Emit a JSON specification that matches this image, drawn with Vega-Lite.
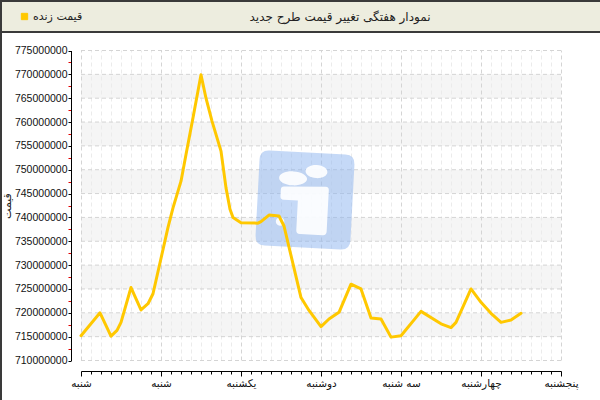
{
  "$schema": "https://vega.github.io/schema/vega-lite/v6.json",
  "padding": 0,
  "autosize": {"type": "pad"},
  "background": "white",
  "spacing": 0,
  "bounds": "flush",
  "config": {"font": "DejaVu Sans", "axis": {"labelFlush": false, "labelOverlap": false, "labelBound": false}},
  "vconcat": [
    {
      "width": 600,
      "height": 31,
      "view": {"fill": "#EDEDDF", "stroke": "#3a3a3a", "strokeWidth": 2},
      "data": {"values": [{"title": "نمودار هفتگی تغییر قیمت طرح جدید"}]},
      "mark": {"type": "text", "font": "DejaVu Sans", "fontSize": 12, "color": "#222222", "dx": 39, "baseline": "middle", "align": "center"},
      "encoding": {"text": {"field": "title"}}
    },
    {
      "width": 600,
      "height": 369,
      "view": {"fill": "white", "stroke": "#3a3a3a", "strokeWidth": 2},
      "layer": [
        {
          "data": {"values": [
            {"v": 765000000, "v2": 770000000},
            {"v": 755000000, "v2": 760000000},
            {"v": 745000000, "v2": 750000000},
            {"v": 735000000, "v2": 740000000},
            {"v": 725000000, "v2": 730000000},
            {"v": 715000000, "v2": 720000000}
          ]},
          "mark": {"type": "rect", "color": "#f5f5f5"},
          "encoding": {
            "x": {"datum": 0, "type": "quantitative", "scale": {"domain": [0, 6], "range": [80, 560], "nice": false, "zero": false},
              "axis": {"orient": "bottom", "offset": -30, "title": null, "values": [0,0.125,0.25,0.375,0.5,0.625,0.75,0.875,1,1.125,1.25,1.375,1.5,1.625,1.75,1.875,2,2.125,2.25,2.375,2.5,2.625,2.75,2.875,3,3.125,3.25,3.375,3.5,3.625,3.75,3.875,4,4.125,4.25,4.375,4.5,4.625,4.75,4.875,5,5.125,5.25,5.375,5.5,5.625,5.75,5.875,6], "labelExpr": "datum.value % 1 === 0 ? ['شنبه','شنبه','یکشنبه','دوشنبه','سه شنبه','چهارشنبه','پنجشنبه'][datum.value] : ''", "labelFont": "DejaVu Sans", "labelFontSize": 10.5, "labelColor": "#111111", "labelPadding": 2, "domainColor": "#000000", "domainWidth": 1, "tickColor": "#000000", "tickSize": {"condition": {"test": "datum.value % 1 === 0", "value": 5}, "value": 3}, "grid": false}},
            "x2": {"datum": 6},
            "y": {"field": "v", "type": "quantitative", "scale": {"domain": [710000000, 775000000], "range": [328.5, 18.5], "nice": false, "zero": false},
              "axis": {"orient": "left", "offset": -70, "title": "قیمت", "values": [710000000,712500000,715000000,717500000,720000000,722500000,725000000,727500000,730000000,732500000,735000000,737500000,740000000,742500000,745000000,747500000,750000000,752500000,755000000,757500000,760000000,762500000,765000000,767500000,770000000,772500000,775000000], "format": "d", "labelExpr": "datum.value % 5000000 === 0 ? datum.label : ''", "labelFont": "Liberation Sans", "labelFontSize": 10.5, "labelColor": "#111111", "labelPadding": 1, "domainColor": "#000000", "domainWidth": 1, "tickColor": {"condition": {"test": "datum.value % 5000000 === 0", "value": "#000000"}, "value": "#e00000"}, "tickSize": 3, "grid": false, "titleFont": "DejaVu Sans", "titleFontSize": 11, "titleFontWeight": "normal", "titleColor": "#222222", "titlePadding": 2}},
            "y2": {"field": "v2"}
          }
        },
        {
          "data": {"values": [
            {"t": 0}, {"t": 0.125}, {"t": 0.25}, {"t": 0.375}, {"t": 0.5}, {"t": 0.625}, {"t": 0.75}, {"t": 0.875},
            {"t": 1}, {"t": 1.125}, {"t": 1.25}, {"t": 1.375}, {"t": 1.5}, {"t": 1.625}, {"t": 1.75}, {"t": 1.875},
            {"t": 2}, {"t": 2.125}, {"t": 2.25}, {"t": 2.375}, {"t": 2.5}, {"t": 2.625}, {"t": 2.75}, {"t": 2.875},
            {"t": 3}, {"t": 3.125}, {"t": 3.25}, {"t": 3.375}, {"t": 3.5}, {"t": 3.625}, {"t": 3.75}, {"t": 3.875},
            {"t": 4}, {"t": 4.125}, {"t": 4.25}, {"t": 4.375}, {"t": 4.5}, {"t": 4.625}, {"t": 4.75}, {"t": 4.875},
            {"t": 5}, {"t": 5.125}, {"t": 5.25}, {"t": 5.375}, {"t": 5.5}, {"t": 5.625}, {"t": 5.75}, {"t": 5.875},
            {"t": 6}
          ]},
          "mark": {"type": "rule", "strokeDash": [4, 3], "strokeWidth": 1, "xOffset": 0.5},
          "encoding": {
            "x": {"field": "t", "type": "quantitative", "scale": {"domain": [0, 6], "range": [80, 560], "nice": false, "zero": false},
              "axis": {"orient": "bottom", "offset": -30, "title": null, "values": [0,0.125,0.25,0.375,0.5,0.625,0.75,0.875,1,1.125,1.25,1.375,1.5,1.625,1.75,1.875,2,2.125,2.25,2.375,2.5,2.625,2.75,2.875,3,3.125,3.25,3.375,3.5,3.625,3.75,3.875,4,4.125,4.25,4.375,4.5,4.625,4.75,4.875,5,5.125,5.25,5.375,5.5,5.625,5.75,5.875,6], "labelExpr": "datum.value % 1 === 0 ? ['شنبه','شنبه','یکشنبه','دوشنبه','سه شنبه','چهارشنبه','پنجشنبه'][datum.value] : ''", "labelFont": "DejaVu Sans", "labelFontSize": 10.5, "labelColor": "#111111", "labelPadding": 2, "domainColor": "#000000", "domainWidth": 1, "tickColor": "#000000", "tickSize": {"condition": {"test": "datum.value % 1 === 0", "value": 5}, "value": 3}, "grid": false}},
            "y": {"datum": 710000000, "type": "quantitative", "scale": {"domain": [710000000, 775000000], "range": [328.5, 18.5], "nice": false, "zero": false},
              "axis": {"orient": "left", "offset": -70, "title": "قیمت", "values": [710000000,712500000,715000000,717500000,720000000,722500000,725000000,727500000,730000000,732500000,735000000,737500000,740000000,742500000,745000000,747500000,750000000,752500000,755000000,757500000,760000000,762500000,765000000,767500000,770000000,772500000,775000000], "format": "d", "labelExpr": "datum.value % 5000000 === 0 ? datum.label : ''", "labelFont": "Liberation Sans", "labelFontSize": 10.5, "labelColor": "#111111", "labelPadding": 1, "domainColor": "#000000", "domainWidth": 1, "tickColor": {"condition": {"test": "datum.value % 5000000 === 0", "value": "#000000"}, "value": "#e00000"}, "tickSize": 3, "grid": false, "titleFont": "DejaVu Sans", "titleFontSize": 11, "titleFontWeight": "normal", "titleColor": "#222222", "titlePadding": 2}},
            "y2": {"datum": 775000000},
            "color": {"condition": {"test": "datum.t % 1 === 0", "value": "#d4d4d4"}, "value": "#ebebeb"}
          }
        },
        {
          "data": {"values": [
            {"v": 710000000}, {"v": 715000000}, {"v": 720000000}, {"v": 725000000}, {"v": 730000000},
            {"v": 735000000}, {"v": 740000000}, {"v": 745000000}, {"v": 750000000}, {"v": 755000000},
            {"v": 760000000}, {"v": 765000000}, {"v": 770000000}, {"v": 775000000}
          ]},
          "mark": {"type": "rule", "strokeDash": [4, 3], "strokeWidth": 1, "color": "#d4d4d4"},
          "encoding": {
            "x": {"datum": 0, "type": "quantitative", "scale": {"domain": [0, 6], "range": [80, 560], "nice": false, "zero": false},
              "axis": {"orient": "bottom", "offset": -30, "title": null, "values": [0,0.125,0.25,0.375,0.5,0.625,0.75,0.875,1,1.125,1.25,1.375,1.5,1.625,1.75,1.875,2,2.125,2.25,2.375,2.5,2.625,2.75,2.875,3,3.125,3.25,3.375,3.5,3.625,3.75,3.875,4,4.125,4.25,4.375,4.5,4.625,4.75,4.875,5,5.125,5.25,5.375,5.5,5.625,5.75,5.875,6], "labelExpr": "datum.value % 1 === 0 ? ['شنبه','شنبه','یکشنبه','دوشنبه','سه شنبه','چهارشنبه','پنجشنبه'][datum.value] : ''", "labelFont": "DejaVu Sans", "labelFontSize": 10.5, "labelColor": "#111111", "labelPadding": 2, "domainColor": "#000000", "domainWidth": 1, "tickColor": "#000000", "tickSize": {"condition": {"test": "datum.value % 1 === 0", "value": 5}, "value": 3}, "grid": false}},
            "x2": {"datum": 6},
            "y": {"field": "v", "type": "quantitative", "scale": {"domain": [710000000, 775000000], "range": [328.5, 18.5], "nice": false, "zero": false},
              "axis": {"orient": "left", "offset": -70, "title": "قیمت", "values": [710000000,712500000,715000000,717500000,720000000,722500000,725000000,727500000,730000000,732500000,735000000,737500000,740000000,742500000,745000000,747500000,750000000,752500000,755000000,757500000,760000000,762500000,765000000,767500000,770000000,772500000,775000000], "format": "d", "labelExpr": "datum.value % 5000000 === 0 ? datum.label : ''", "labelFont": "Liberation Sans", "labelFontSize": 10.5, "labelColor": "#111111", "labelPadding": 1, "domainColor": "#000000", "domainWidth": 1, "tickColor": {"condition": {"test": "datum.value % 5000000 === 0", "value": "#000000"}, "value": "#e00000"}, "tickSize": 3, "grid": false, "titleFont": "DejaVu Sans", "titleFontSize": 11, "titleFontWeight": "normal", "titleColor": "#222222", "titlePadding": 2}}
          }
        },
        {
          "data": {"values": [{"t": 2.8, "v": 743650000}]},
          "mark": {"type": "point", "filled": true, "color": "#8cb4f0", "opacity": 0.5, "size": 9025, "angle": 3, "strokeWidth": 0,
            "shape": "M -0.8 -1 L 0.8 -1 Q 1 -1 1 -0.8 L 1 0.8 Q 1 1 0.8 1 L -0.8 1 Q -1 1 -1 0.8 L -1 -0.8 Q -1 -1 -0.8 -1 Z"},
          "encoding": {
            "x": {"field": "t", "type": "quantitative", "scale": {"domain": [0, 6], "range": [80, 560], "nice": false, "zero": false},
              "axis": {"orient": "bottom", "offset": -30, "title": null, "values": [0,0.125,0.25,0.375,0.5,0.625,0.75,0.875,1,1.125,1.25,1.375,1.5,1.625,1.75,1.875,2,2.125,2.25,2.375,2.5,2.625,2.75,2.875,3,3.125,3.25,3.375,3.5,3.625,3.75,3.875,4,4.125,4.25,4.375,4.5,4.625,4.75,4.875,5,5.125,5.25,5.375,5.5,5.625,5.75,5.875,6], "labelExpr": "datum.value % 1 === 0 ? ['شنبه','شنبه','یکشنبه','دوشنبه','سه شنبه','چهارشنبه','پنجشنبه'][datum.value] : ''", "labelFont": "DejaVu Sans", "labelFontSize": 10.5, "labelColor": "#111111", "labelPadding": 2, "domainColor": "#000000", "domainWidth": 1, "tickColor": "#000000", "tickSize": {"condition": {"test": "datum.value % 1 === 0", "value": 5}, "value": 3}, "grid": false}},
            "y": {"field": "v", "type": "quantitative", "scale": {"domain": [710000000, 775000000], "range": [328.5, 18.5], "nice": false, "zero": false},
              "axis": {"orient": "left", "offset": -70, "title": "قیمت", "values": [710000000,712500000,715000000,717500000,720000000,722500000,725000000,727500000,730000000,732500000,735000000,737500000,740000000,742500000,745000000,747500000,750000000,752500000,755000000,757500000,760000000,762500000,765000000,767500000,770000000,772500000,775000000], "format": "d", "labelExpr": "datum.value % 5000000 === 0 ? datum.label : ''", "labelFont": "Liberation Sans", "labelFontSize": 10.5, "labelColor": "#111111", "labelPadding": 1, "domainColor": "#000000", "domainWidth": 1, "tickColor": {"condition": {"test": "datum.value % 5000000 === 0", "value": "#000000"}, "value": "#e00000"}, "tickSize": 3, "grid": false, "titleFont": "DejaVu Sans", "titleFontSize": 11, "titleFontWeight": "normal", "titleColor": "#222222", "titlePadding": 2}}
          }
        },
        {
          "data": {"values": [{"t": 2.8, "v": 743650000}]},
          "mark": {"type": "point", "filled": true, "color": "#ffffff", "opacity": 0.9, "size": 9025, "angle": 3, "strokeWidth": 0,
            "shape": "M -0.569 -0.442 A 0.295 0.147 0 1 0 0.021 -0.442 A 0.295 0.147 0 1 0 -0.569 -0.442 Z M -0.02 -0.61 A 0.23 0.137 0 1 0 0.44 -0.61 A 0.23 0.137 0 1 0 -0.02 -0.61 Z M -0.45 -0.26 L 0.42 -0.3 Q 0.49 -0.3 0.49 -0.23 L 0.49 0.64 Q 0.49 0.72 0.41 0.72 L -0.07 0.72 Q -0.15 0.72 -0.15 0.64 L -0.15 0.02 L -0.45 0.02 Q -0.52 0.02 -0.52 -0.05 L -0.52 -0.19 Q -0.52 -0.26 -0.45 -0.26 Z M -0.59 0.48 A 0.09 0.09 0 1 0 -0.41 0.48 A 0.09 0.09 0 1 0 -0.59 0.48 Z"},
          "encoding": {
            "x": {"field": "t", "type": "quantitative", "scale": {"domain": [0, 6], "range": [80, 560], "nice": false, "zero": false},
              "axis": {"orient": "bottom", "offset": -30, "title": null, "values": [0,0.125,0.25,0.375,0.5,0.625,0.75,0.875,1,1.125,1.25,1.375,1.5,1.625,1.75,1.875,2,2.125,2.25,2.375,2.5,2.625,2.75,2.875,3,3.125,3.25,3.375,3.5,3.625,3.75,3.875,4,4.125,4.25,4.375,4.5,4.625,4.75,4.875,5,5.125,5.25,5.375,5.5,5.625,5.75,5.875,6], "labelExpr": "datum.value % 1 === 0 ? ['شنبه','شنبه','یکشنبه','دوشنبه','سه شنبه','چهارشنبه','پنجشنبه'][datum.value] : ''", "labelFont": "DejaVu Sans", "labelFontSize": 10.5, "labelColor": "#111111", "labelPadding": 2, "domainColor": "#000000", "domainWidth": 1, "tickColor": "#000000", "tickSize": {"condition": {"test": "datum.value % 1 === 0", "value": 5}, "value": 3}, "grid": false}},
            "y": {"field": "v", "type": "quantitative", "scale": {"domain": [710000000, 775000000], "range": [328.5, 18.5], "nice": false, "zero": false},
              "axis": {"orient": "left", "offset": -70, "title": "قیمت", "values": [710000000,712500000,715000000,717500000,720000000,722500000,725000000,727500000,730000000,732500000,735000000,737500000,740000000,742500000,745000000,747500000,750000000,752500000,755000000,757500000,760000000,762500000,765000000,767500000,770000000,772500000,775000000], "format": "d", "labelExpr": "datum.value % 5000000 === 0 ? datum.label : ''", "labelFont": "Liberation Sans", "labelFontSize": 10.5, "labelColor": "#111111", "labelPadding": 1, "domainColor": "#000000", "domainWidth": 1, "tickColor": {"condition": {"test": "datum.value % 5000000 === 0", "value": "#000000"}, "value": "#e00000"}, "tickSize": 3, "grid": false, "titleFont": "DejaVu Sans", "titleFontSize": 11, "titleFontWeight": "normal", "titleColor": "#222222", "titlePadding": 2}}
          }
        },
        {
          "data": {"values": [
            {"t": 0, "v": 715200000, "series": "قیمت زنده"},
            {"t": 0.2375, "v": 720000000, "series": "قیمت زنده"},
            {"t": 0.375, "v": 715100000, "series": "قیمت زنده"},
            {"t": 0.45, "v": 716300000, "series": "قیمت زنده"},
            {"t": 0.5, "v": 718000000, "series": "قیمت زنده"},
            {"t": 0.625, "v": 725300000, "series": "قیمت زنده"},
            {"t": 0.75, "v": 720600000, "series": "قیمت زنده"},
            {"t": 0.8375, "v": 721900000, "series": "قیمت زنده"},
            {"t": 0.9, "v": 724000000, "series": "قیمت زنده"},
            {"t": 1.0875, "v": 737900000, "series": "قیمت زنده"},
            {"t": 1.15, "v": 742000000, "series": "قیمت زنده"},
            {"t": 1.25, "v": 747600000, "series": "قیمت زنده"},
            {"t": 1.3125, "v": 753200000, "series": "قیمت زنده"},
            {"t": 1.4, "v": 760900000, "series": "قیمت زنده"},
            {"t": 1.5, "v": 769900000, "series": "قیمت زنده"},
            {"t": 1.5625, "v": 765000000, "series": "قیمت زنده"},
            {"t": 1.6375, "v": 760200000, "series": "قیمت زنده"},
            {"t": 1.75, "v": 753900000, "series": "قیمت زنده"},
            {"t": 1.8125, "v": 746200000, "series": "قیمت زنده"},
            {"t": 1.8625, "v": 741700000, "series": "قیمت زنده"},
            {"t": 1.9, "v": 740000000, "series": "قیمت زنده"},
            {"t": 2.0, "v": 738900000, "series": "قیمت زنده"},
            {"t": 2.2125, "v": 738800000, "series": "قیمت زنده"},
            {"t": 2.25, "v": 739100000, "series": "قیمت زنده"},
            {"t": 2.35, "v": 740500000, "series": "قیمت زنده"},
            {"t": 2.475, "v": 740300000, "series": "قیمت زنده"},
            {"t": 2.5375, "v": 738200000, "series": "قیمت زنده"},
            {"t": 2.75, "v": 723200000, "series": "قیمت زنده"},
            {"t": 2.85, "v": 720500000, "series": "قیمت زنده"},
            {"t": 3.0, "v": 717100000, "series": "قیمت زنده"},
            {"t": 3.1, "v": 718700000, "series": "قیمت زنده"},
            {"t": 3.225, "v": 720100000, "series": "قیمت زنده"},
            {"t": 3.375, "v": 726000000, "series": "قیمت زنده"},
            {"t": 3.5, "v": 725000000, "series": "قیمت زنده"},
            {"t": 3.625, "v": 718900000, "series": "قیمت زنده"},
            {"t": 3.75, "v": 718700000, "series": "قیمت زنده"},
            {"t": 3.875, "v": 714900000, "series": "قیمت زنده"},
            {"t": 4.0, "v": 715200000, "series": "قیمت زنده"},
            {"t": 4.25, "v": 720300000, "series": "قیمت زنده"},
            {"t": 4.5, "v": 717700000, "series": "قیمت زنده"},
            {"t": 4.625, "v": 716900000, "series": "قیمت زنده"},
            {"t": 4.6875, "v": 718000000, "series": "قیمت زنده"},
            {"t": 4.875, "v": 725000000, "series": "قیمت زنده"},
            {"t": 5.0, "v": 722200000, "series": "قیمت زنده"},
            {"t": 5.125, "v": 719900000, "series": "قیمت زنده"},
            {"t": 5.25, "v": 718000000, "series": "قیمت زنده"},
            {"t": 5.375, "v": 718500000, "series": "قیمت زنده"},
            {"t": 5.5, "v": 719900000, "series": "قیمت زنده"}
          ]},
          "mark": {"type": "line", "strokeWidth": 3, "strokeJoin": "round", "strokeCap": "round"},
          "encoding": {
            "x": {"field": "t", "type": "quantitative", "scale": {"domain": [0, 6], "range": [80, 560], "nice": false, "zero": false},
              "axis": {"orient": "bottom", "offset": -30, "title": null, "values": [0,0.125,0.25,0.375,0.5,0.625,0.75,0.875,1,1.125,1.25,1.375,1.5,1.625,1.75,1.875,2,2.125,2.25,2.375,2.5,2.625,2.75,2.875,3,3.125,3.25,3.375,3.5,3.625,3.75,3.875,4,4.125,4.25,4.375,4.5,4.625,4.75,4.875,5,5.125,5.25,5.375,5.5,5.625,5.75,5.875,6], "labelExpr": "datum.value % 1 === 0 ? ['شنبه','شنبه','یکشنبه','دوشنبه','سه شنبه','چهارشنبه','پنجشنبه'][datum.value] : ''", "labelFont": "DejaVu Sans", "labelFontSize": 10.5, "labelColor": "#111111", "labelPadding": 2, "domainColor": "#000000", "domainWidth": 1, "tickColor": "#000000", "tickSize": {"condition": {"test": "datum.value % 1 === 0", "value": 5}, "value": 3}, "grid": false}},
            "y": {"field": "v", "type": "quantitative", "scale": {"domain": [710000000, 775000000], "range": [328.5, 18.5], "nice": false, "zero": false},
              "axis": {"orient": "left", "offset": -70, "title": "قیمت", "values": [710000000,712500000,715000000,717500000,720000000,722500000,725000000,727500000,730000000,732500000,735000000,737500000,740000000,742500000,745000000,747500000,750000000,752500000,755000000,757500000,760000000,762500000,765000000,767500000,770000000,772500000,775000000], "format": "d", "labelExpr": "datum.value % 5000000 === 0 ? datum.label : ''", "labelFont": "Liberation Sans", "labelFontSize": 10.5, "labelColor": "#111111", "labelPadding": 1, "domainColor": "#000000", "domainWidth": 1, "tickColor": {"condition": {"test": "datum.value % 5000000 === 0", "value": "#000000"}, "value": "#e00000"}, "tickSize": 3, "grid": false, "titleFont": "DejaVu Sans", "titleFontSize": 11, "titleFontWeight": "normal", "titleColor": "#222222", "titlePadding": 2}},
            "color": {
              "field": "series", "type": "nominal",
              "scale": {"range": ["#FFC800"]},
              "legend": {
                "orient": "none", "legendX": 18, "legendY": 10, "title": null, "padding": 0,
                "symbolType": "square", "symbolSize": 40, "symbolFillColor": "#FFC800", "symbolStrokeColor": "#E6A800", "symbolStrokeWidth": 1,
                "labelFont": "DejaVu Sans", "labelFontSize": 11, "labelColor": "#222222", "labelOffset": 3
              }
            }
          }
        }
      ]
    }
  ]
}
